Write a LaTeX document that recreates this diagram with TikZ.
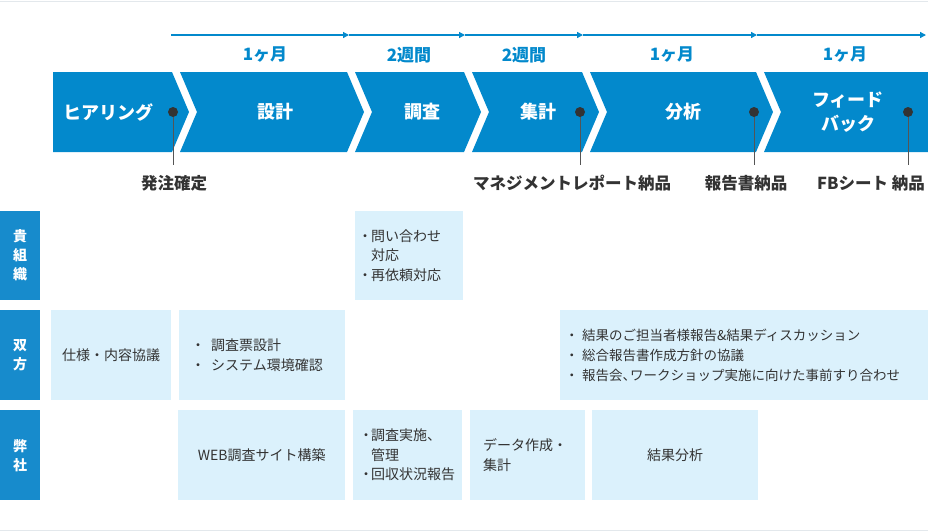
\documentclass[tikz,border=0pt]{standalone}
\usepackage{fontspec}
\setmainfont{Noto Sans CJK JP}
\usetikzlibrary{arrows.meta}
\definecolor{bandblue}{HTML}{0389CC}
\definecolor{rowblue}{HTML}{178BCC}
\definecolor{lightbox}{HTML}{DBF1FC}
\definecolor{txt}{HTML}{333333}
\definecolor{dotc}{HTML}{333333}
\definecolor{msgray}{HTML}{555555}
\definecolor{rulec}{HTML}{E3E8EC}
\newcommand{\bulletbox}[1]{\makebox[#1][l]{・}}
\newcommand{\narrowcomma}{\makebox[0.55em][l]{、}}
\begin{document}
\begin{tikzpicture}[x=1pt,y=-1pt,
  band/.style={fill=bandblue},
  phase/.style={text=white,font=\fontsize{18}{24}\selectfont\bfseries,align=center},
  dur/.style={text=bandblue,font=\fontsize{17}{20}\selectfont\bfseries},
  tl/.style={draw=bandblue,line width=1.3pt,-{Triangle[length=6pt,width=6pt]}},
  msdot/.style={circle,fill=dotc,inner sep=0pt,minimum size=10pt},
  msline/.style={draw=msgray,line width=1pt},
  mslab/.style={text=txt,font=\fontsize{16.5}{20}\selectfont\bfseries},
  rowlab/.style={fill=rowblue,text=white,font=\fontsize{14}{19}\selectfont\bfseries,align=center,
    minimum width=40pt,inner sep=0pt,anchor=north west},
  lbox/.style={fill=lightbox,text=txt,font=\fontsize{14}{19.5}\selectfont,inner sep=0pt,anchor=north west},
]
\useasboundingbox (0,0) rectangle (928,531);
\draw[rulec,line width=1pt] (0,1) -- (928,1);
\draw[rulec,line width=1pt] (0,530) -- (928,530);

% timeline
\coordinate (t0) at (171,35);
\coordinate (t1) at (349,35);
\coordinate (t2) at (465,35);
\coordinate (t3) at (583,35);
\coordinate (t4) at (757,35);
\coordinate (t5) at (926,35);
\draw[tl] (t0) -- (t1);
\draw[tl] (t1) -- (t2);
\draw[tl] (t2) -- (t3);
\draw[tl] (t3) -- (t4);
\draw[tl] (t4) -- (t5);
\node[dur] (du1) at (265,55) {1ヶ月};
\node[dur] (du2) at (409,55) {2週間};
\node[dur] (du3) at (524,55) {2週間};
\node[dur] (du4) at (672,55) {1ヶ月};
\node[dur] (du5) at (845,55) {1ヶ月};

% chevron band
\fill[band] (53,72) -- (172,72) -- (189,112) -- (172,152) -- (53,152) -- cycle;
\fill[band] (180,72) -- (347,72) -- (364,112) -- (347,152) -- (180,152) -- (197,112) -- cycle;
\fill[band] (355,72) -- (464,72) -- (481,112) -- (464,152) -- (355,152) -- (372,112) -- cycle;
\fill[band] (472,72) -- (582,72) -- (599,112) -- (582,152) -- (472,152) -- (489,112) -- cycle;
\fill[band] (590,72) -- (756,72) -- (773,112) -- (756,152) -- (590,152) -- (607,112) -- cycle;
\fill[band] (764,72) -- (928,72) -- (928,152) -- (764,152) -- (781,112) -- cycle;
\node[phase] (p1) at (108,112) {ヒアリング};
\node[phase] (p2) at (275,112) {設計};
\node[phase] (p3) at (422,112) {調査};
\node[phase] (p4) at (538,112) {集計};
\node[phase] (p5) at (683,112) {分析};
\node[phase] (p6) at (848,112) {フィード\\バック};

% milestones
\coordinate (m1e) at (173,165);
\coordinate (m2e) at (580,165);
\coordinate (m3e) at (754,165);
\coordinate (m4e) at (908,165);
\coordinate (m1c) at (173,112);
\coordinate (m2c) at (580,112);
\coordinate (m3c) at (754,112);
\coordinate (m4c) at (908,112);
\draw[msline] (m1c) -- (m1e);
\draw[msline] (m2c) -- (m2e);
\draw[msline] (m3c) -- (m3e);
\draw[msline] (m4c) -- (m4e);
\node[msdot] (m1) at (m1c) {};
\node[msdot] (m2) at (m2c) {};
\node[msdot] (m3) at (m3c) {};
\node[msdot] (m4) at (m4c) {};
\node[mslab] (ml1) at (174,183) {発注確定};
\node[mslab] (ml2) at (572,183) {マネジメントレポート納品};
\node[mslab] (ml3) at (746,183) {報告書納品};
\node[mslab] (ml4) at (871,183) {FBシート 納品};

% row labels
\node[rowlab,minimum height=89pt] (r1) at (0,211) {貴\\組\\織};
\node[rowlab,minimum height=90pt] (r2) at (0,310) {双\\方};
\node[rowlab,minimum height=90pt] (r3) at (0,410) {弊\\社};

% row 1
\node[lbox,minimum height=89pt,text width=102pt,inner xsep=3pt,align=left] (b11) at (355,211)
  {\bulletbox{13pt}問い合わせ\\\hspace*{13pt}対応\\\bulletbox{13pt}再依頼対応};

% row 2
\node[lbox,minimum height=90pt,minimum width=120pt,align=center] (b21) at (51,310) {仕様・内容協議};
\node[lbox,minimum height=90pt,text width=142pt,inner xsep=12pt,align=left] (b22) at (179,310)
  {\bulletbox{20pt}調査票設計\\\bulletbox{20pt}システム環境確認};
\node[lbox,minimum height=90pt,text width=358pt,inner xsep=5pt,align=left,font=\fontsize{13.5}{20}\selectfont] (b23) at (560,310)
  {\bulletbox{17pt}結果のご担当者様報告\&結果ディスカッション\\
   \bulletbox{17pt}総合報告書作成方針の協議\\
   \bulletbox{17pt}報告会\narrowcomma ワークショップ実施に向けた事前すり合わせ};

% row 3
\node[lbox,minimum height=90pt,minimum width=167pt,align=center] (b31) at (178,410) {WEB調査サイト構築};
\node[lbox,minimum height=90pt,text width=97pt,inner xsep=6pt,align=left] (b32) at (353,410)
  {\bulletbox{12pt}調査実施、\\\hspace*{12pt}管理\\\bulletbox{12pt}回収状況報告};
\node[lbox,minimum height=90pt,text width=89pt,inner xsep=13pt,align=left] (b33) at (470,410)
  {データ作成・\\集計};
\node[lbox,minimum height=90pt,minimum width=166pt,align=center] (b34) at (592,410) {結果分析};
\end{tikzpicture}
\end{document}
